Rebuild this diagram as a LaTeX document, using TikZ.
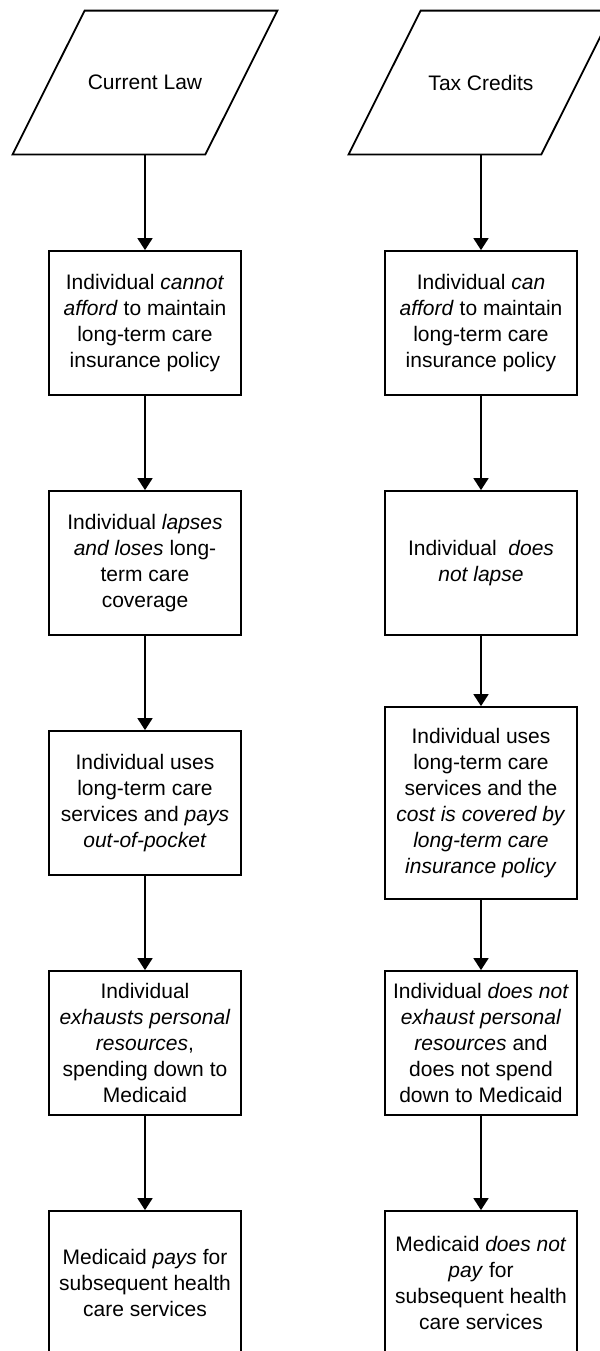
\documentclass[tikz,border=0pt]{standalone}
\usepackage{fontspec}
\setmainfont{Liberation Sans}
\usetikzlibrary{arrows.meta}

\begin{document}
\begin{tikzpicture}[x=0.5pt,y=-0.5pt,
    every node/.style={font=\fontsize{10.5}{13}\selectfont, align=center},
    stepbox/.style={draw, line width=0.9pt, minimum width=96pt, minimum height=72pt, inner sep=0pt},
    inputbox/.style={minimum width=96pt, minimum height=71.5pt, inner sep=0pt},
    slant/.style={line width=0.9pt},
    arr/.style={line width=0.9pt, -{Triangle[width=7.5pt,length=6pt]}}]
    \clip (0,0) rectangle (600,1351);
    \node[inputbox] (cl) at (145,82.5) {Current Law};
    \node[inputbox] (tc) at (481,82.5) {Tax Credits};
    \foreach \n in {cl,tc}
        \draw[slant] ([xshift=18pt]\n.north west) -- ([xshift=18pt]\n.north east)
            -- ([xshift=-18pt]\n.south east) -- ([xshift=-18pt]\n.south west) -- cycle;
    \node[stepbox] (l1) at (145,323) {Individual \textit{cannot}\\ \textit{afford} to maintain\\ long-term care\\ insurance policy};
    \node[stepbox] (l2) at (145,563) {Individual \textit{lapses}\\ \textit{and loses} long-\\ term care\\ coverage};
    \node[stepbox] (l3) at (145,803) {Individual uses\\ long-term care\\ services and \textit{pays}\\ \textit{out-of-pocket}};
    \node[stepbox] (l4) at (145,1043) {Individual\\ \textit{exhausts personal}\\ \textit{resources},\\ spending down to\\ Medicaid};
    \node[stepbox] (l5) at (145,1283) {Medicaid \textit{pays} for\\ subsequent health\\ care services};
    \node[stepbox] (r1) at (481,323) {Individual \textit{can}\\ \textit{afford} to maintain\\ long-term care\\ insurance policy};
    \node[stepbox] (r2) at (481,563) {Individual \ \textit{does}\\ \textit{not lapse}};
    \node[stepbox, minimum height=96pt] (r3) at (481,803) {Individual uses\\ long-term care\\ services and the\\ \textit{cost is covered by}\\ \textit{long-term care}\\ \textit{insurance policy}};
    \node[stepbox] (r4) at (481,1043) {Individual \textit{does not}\\ \textit{exhaust personal}\\ \textit{resources} and\\ does not spend\\ down to Medicaid};
    \node[stepbox] (r5) at (481,1283) {Medicaid \textit{does not}\\ \textit{pay} for\\ subsequent health\\ care services};
    \draw[arr] (cl) -- (l1);
    \draw[arr] (l1) -- (l2);
    \draw[arr] (l2) -- (l3);
    \draw[arr] (l3) -- (l4);
    \draw[arr] (l4) -- (l5);
    \draw[arr] (tc) -- (r1);
    \draw[arr] (r1) -- (r2);
    \draw[arr] (r2) -- (r3);
    \draw[arr] (r3) -- (r4);
    \draw[arr] (r4) -- (r5);
\end{tikzpicture}
\end{document}
